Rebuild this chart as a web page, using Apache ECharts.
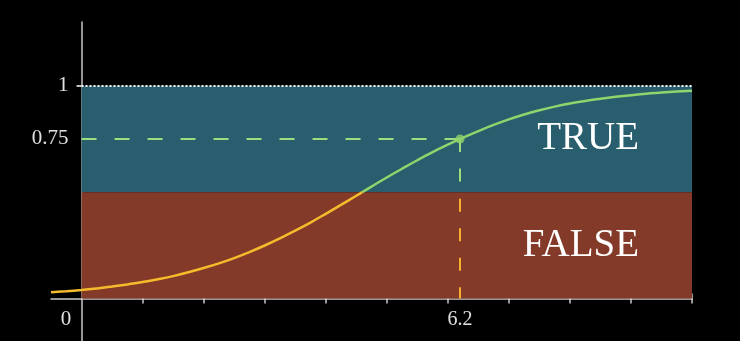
<!DOCTYPE html>
<html>
<head>
<meta charset="utf-8">
<script src="https://cdn.jsdelivr.net/npm/echarts@6/dist/echarts.min.js"></script>
<style>html,body{margin:0;padding:0;background:#000;}#c{width:740px;height:341px;}</style>
</head>
<body>
<div id="c"></div>
<script>
// Curve samples (part below 0.5, part above 0.5)
const lowerX = [-0.5, -0.25, 0, 0.25, 0.5, 0.75, 1, 1.25, 1.5, 1.75, 2, 2.25, 2.5, 2.75, 3, 3.25, 3.5, 3.75, 4, 4.25, 4.5, 4.6];
const lowerY = [0.029, 0.034, 0.040, 0.047, 0.056, 0.066, 0.077, 0.090, 0.105, 0.123, 0.143, 0.165, 0.190, 0.218, 0.249, 0.283, 0.319, 0.357, 0.398, 0.440, 0.483, 0.5];
const upperX = [4.6, 4.75, 5, 5.25, 5.5, 5.75, 6, 6.25, 6.5, 6.75, 7, 7.25, 7.5, 7.75, 8, 8.25, 8.5, 8.75, 9, 9.25, 9.5, 9.75, 10];
const upperY = [0.5, 0.526, 0.569, 0.610, 0.650, 0.688, 0.723, 0.756, 0.787, 0.816, 0.842, 0.865, 0.885, 0.902, 0.917, 0.929, 0.939, 0.948, 0.956, 0.963, 0.968, 0.973, 0.977];
const xTicks = [1, 2, 3, 4, 5, 6, 7, 8, 9, 10];
const xLabels = [0, 6.2];
const yLabels = [0.75, 1];
const threshold = 0.5;
const pointX = 6.2;
const pointY = 0.75;
const regionTrue = {name: 'TRUE', from: 0.5, to: 1};
const regionFalse = {name: 'FALSE', from: 0, to: 0.5};
const xStart = 0, xEnd = 10;

const W = 740, H = 341;
const grid = {left: 51, right: 48, top: 22, bottom: 0};
const xMin = -0.5, xMax = 10, yMin = -0.2, yMax = 1.3;
const gw = W - grid.left - grid.right, gh = H - grid.top - grid.bottom;
// shift axes so they cross at the origin (computed from the axis ranges)
const xAxisShift = -gh * (0 - yMin) / (yMax - yMin);
const yAxisShift = -gw * (0 - xMin) / (xMax - xMin);

const chart = echarts.init(document.getElementById('c'));
const axisColor = 'rgba(235,235,235,0.85)';
const serif = 'Liberation Serif';
const zip = (xs, ys) => xs.map((x, i) => [x, ys[i]]);

chart.setOption({
  backgroundColor: '#000',
  animation: false,
  grid: Object.assign({containLabel: false, outerBoundsMode: 'none'}, grid),
  xAxis: [{
    type: 'value', min: xMin, max: xMax, position: 'bottom', offset: xAxisShift,
    axisLine: {onZero: false, lineStyle: {color: axisColor, width: 1.5}},
    axisTick: {show: false},
    axisLabel: {
      customValues: xLabels, margin: 11, color: '#e0e0e0', fontFamily: serif, fontSize: 20,
      formatter: v => v === 0 ? '{z|0}' : '{n|' + v + '}',
      rich: {z: {padding: [0, 31, 0, 0], fontFamily: serif, fontSize: 21, color: '#e0e0e0'},
             n: {fontFamily: serif, fontSize: 20, color: '#e0e0e0'}}
    },
    splitLine: {show: false}
  }, {
    type: 'value', min: xMin, max: xMax, position: 'bottom', offset: xAxisShift - 5,
    axisLine: {show: false, onZero: false},
    axisTick: {show: true, inside: false, length: 10, customValues: xTicks, lineStyle: {color: axisColor, width: 1.5}},
    axisLabel: {show: false},
    splitLine: {show: false}
  }],
  yAxis: {
    type: 'value', min: yMin, max: yMax, position: 'left', offset: yAxisShift,
    axisLine: {show: true, onZero: false, lineStyle: {color: axisColor, width: 1.5}},
    axisTick: {show: true, length: 5, customValues: [1], lineStyle: {color: '#fff', width: 1.5}},
    axisLabel: {customValues: yLabels, margin: 13, color: '#e0e0e0', fontFamily: serif, fontSize: 21},
    splitLine: {show: false}
  },
  series: [{
    type: 'line', smooth: 0.4, symbol: 'none', data: zip(lowerX, lowerY), z: 5,
    lineStyle: {width: 2.5, color: '#f6bb2c'},
    markArea: {
      silent: true,
      label: {show: true, position: 'insideRight', distance: 53, color: '#fff', fontFamily: serif, fontSize: 39},
      data: [
        [{name: regionTrue.name, coord: [xStart, regionTrue.from], itemStyle: {color: '#295e6e'}}, {coord: [xEnd, regionTrue.to]}],
        [{name: regionFalse.name, coord: [xStart, regionFalse.from], itemStyle: {color: '#843a28'}}, {coord: [xEnd, regionFalse.to]}]
      ]
    },
    markLine: {
      silent: true, symbol: 'none', label: {show: false},
      data: [
        [{coord: [xStart, 1], lineStyle: {color: '#fff', width: 2, type: [2, 2]}}, {coord: [xEnd, 1]}],
        [{coord: [xStart, pointY], lineStyle: {color: '#9fdc7e', width: 2, type: [15, 18]}}, {coord: [pointX, pointY]}],
        [{coord: [pointX, pointY], lineStyle: {color: '#9fdc7e', width: 2, type: [13, 16.5]}}, {coord: [pointX, threshold]}],
        [{coord: [pointX, threshold], lineStyle: {color: '#f6b02e', width: 2, type: [13, 16.5], dashOffset: 23}}, {coord: [pointX, 0]}]
      ]
    }
  }, {
    type: 'line', smooth: 0.4, symbol: 'none', data: zip(upperX, upperY), z: 5,
    lineStyle: {width: 2.5, color: '#8fd46c'}
  }, {
    type: 'scatter', data: [[pointX, pointY]], symbolSize: 9, z: 6,
    itemStyle: {color: '#8fd46c'}
  }]
});
</script>
</body>
</html>
